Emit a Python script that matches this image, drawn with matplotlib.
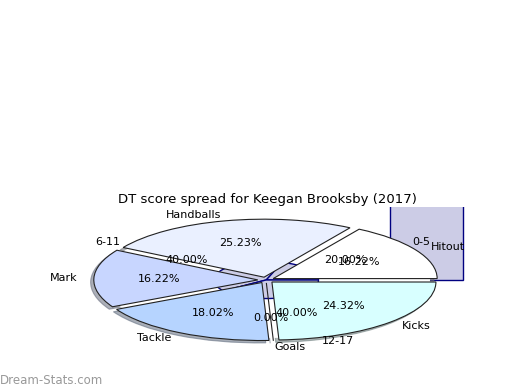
import matplotlib
matplotlib.use("Agg")
import matplotlib.pyplot as plt
from matplotlib.patches import Rectangle, Shadow, Circle

# Data
stat_labels = ["Hitout", "Handballs", "Mark", "Tackle", "Goals", "Kicks"]
stat_values = [16.22, 25.23, 16.22, 18.02, 0.00, 24.32]
stat_colors = ["#ffffff", "#eaf0ff", "#c8d6ff", "#b6d4ff", "#c8d8ff", "#d8ffff"]

score_labels = ["0-5", "6-11", "12-17"]
score_values = [20.0, 40.0, 40.0]

title = "DT score spread for Keegan Brooksby (2017)"

fig = plt.figure(figsize=(5.2, 3.9), dpi=100)
W, H = 520, 390
cx, cy = 266, 280
rx, ry = 164, 58
yl = (cy - 207) / ry
xl = 1.25
left = cx - xl * rx
bottom = (H - cy) - yl * ry
ax = fig.add_axes([left / W, bottom / H, 2 * xl * rx / W, 2 * yl * ry / H])
ax.set_xlim(-xl, xl)
ax.set_ylim(-yl, yl)

# lavender block behind the pie
x0 = (390 - cx) / rx
x1 = (463 - cx) / rx
rect = Rectangle((x0, 0.0), x1 - x0, 5.0, facecolor="#ccccE6", edgecolor="#000080",
                 linewidth=1.0, zorder=0.5)
ax.add_patch(rect)

# second pie (score spread), small, under the main slices
r2 = 0.32
w2, t2, a2 = ax.pie(score_values, labels=score_labels, autopct="%.2f%%",
                    startangle=0, radius=r2, labeldistance=1.1 / r2,
                    pctdistance=0.6 / r2, colors=["#ccccE6"] * 3,
                    wedgeprops=dict(edgecolor="#000080", linewidth=1.0),
                    textprops=dict(fontsize=8), frame=True)
for w in w2:
    w.set_zorder(0.97)

# main pie
w1, t1, a1 = ax.pie(stat_values, labels=stat_labels, autopct="%.2f%%",
                    startangle=0, explode=[0.05] * 6, shadow=False,
                    colors=stat_colors,
                    wedgeprops=dict(edgecolor="#222222", linewidth=0.8),
                    textprops=dict(fontsize=8), frame=True)

# shadows only visible along the rim: white disc hides them inside
for w in w1:
    s = Shadow(w, -0.014, -0.03, shade=0.55)
    s.set_zorder(0.9)
    ax.add_patch(s)
ax.add_patch(Circle((0, 0), 1.0, facecolor="white", edgecolor="none", zorder=0.95))

ax.set_xlim(-xl, xl)
ax.set_ylim(-yl, yl)
ax.set_aspect("auto")
ax.axis("off")

fig.text(267 / W, 1 - 200 / H, title, ha="center", va="center", fontsize=9.5)
fig.text(0.0, 1 - 380 / H, "Dream-Stats.com", ha="left", va="center",
         fontsize=8.5, color="#999999")

fig.savefig("out.png", dpi=100)
